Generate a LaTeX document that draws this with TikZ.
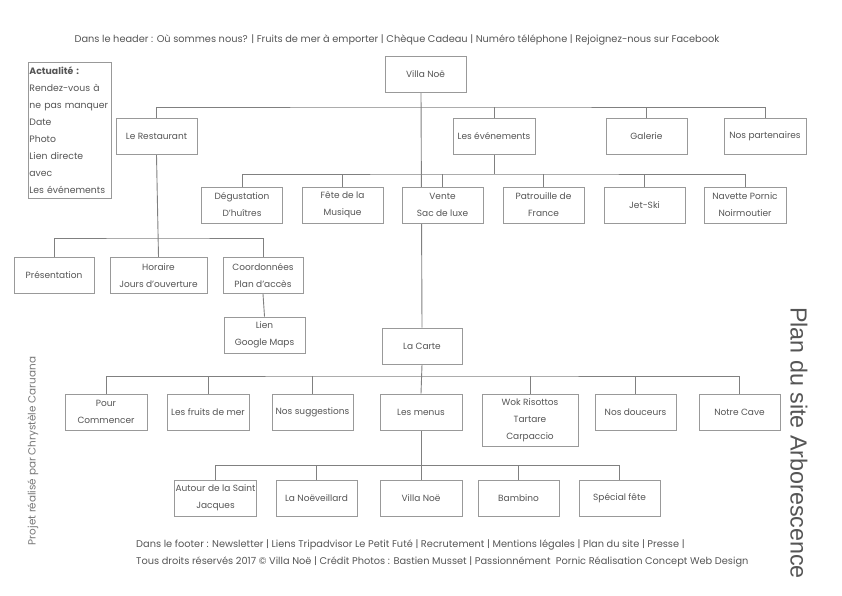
\documentclass[tikz,border=0pt]{standalone}
\usepackage{fontspec}
\setmainfont{Poppins}
\newfontfamily\titlefont{Liberation Sans}
\usetikzlibrary{backgrounds}
\definecolor{txt}{HTML}{555555}
\definecolor{bord}{HTML}{999999}
\definecolor{wirec}{HTML}{808080}
\tikzset{
  box/.style={draw=bord, line width=0.9pt, fill=white, minimum width=81pt, minimum height=36pt,
    inner sep=1pt, align=center, font=\fontsize{9}{17}\selectfont, text=txt},
  wire/.style={draw=wirec, line width=0.9pt},
  plain/.style={text=txt, inner sep=0pt, font=\fontsize{9.8}{17}\selectfont},
}
\begin{document}
\begin{tikzpicture}[x=1pt,y=-1pt]
\useasboundingbox (0,0) rectangle (842,595);
% header / footer
\node[plain] (header) at (397,40) {Dans le header : Où sommes nous? | Fruits de mer à emporter | Chèque Cadeau | Numéro téléphone | Rejoignez-nous sur Facebook};
\node[plain, anchor=west] (foot1) at (136,545) {Dans le footer : Newsletter | Liens Tripadvisor Le Petit Futé | Recrutement | Mentions légales | Plan du site | Presse |};
\node[plain, anchor=west] (foot2) at (136,562) {Tous droits réservés 2017 © Villa Noë | Crédit Photos : Bastien Musset | Passionnément\ \ Pornic Réalisation Concept Web Design};
% side texts
\node[plain, text=txt!80, font=\fontsize{10.4}{11}\selectfont, rotate=90] (author) at (33,451) {Projet réalisé par Chrystèle Caruana};
\node[plain, text=txt, font=\titlefont\fontsize{23.3}{24}\selectfont, rotate=-90] (title) at (799,443) {Plan du site Arborescence};
% actualite
\node[box, font=\fontsize{9.3}{17}\selectfont, minimum width=82pt, minimum height=136pt, text width=81pt, align=left, anchor=north west] (actu) at (28,62)
  {\textbf{Actualité :}\\Rendez-vous à\\ne pas manquer\\Date\\Photo\\Lien directe\\avec\\Les événements};
% level 0
\node[box] (villa) at (425.5,74) {Villa Noë};
% level 1
\node[box] (resto) at (156.5,136.5) {Le Restaurant};
\node[box, minimum width=82pt] (events) at (494,136.5) {Les événements};
\node[box] (galerie) at (646.5,136.5) {Galerie};
\node[box, minimum width=82pt] (parten) at (765,136.5) {Nos partenaires};
% events children
\node[box] (degust) at (242,205) {Dégustation\\D'huîtres};
\node[box] (fete) at (342.5,205) {Fête de la\\Musique};
\node[box] (vente) at (442.5,205) {Vente\\Sac de luxe};
\node[box] (patrouille) at (543.5,205) {Patrouille de\\France};
\node[box] (jetski) at (644.5,205) {Jet-Ski};
\node[box, minimum width=82pt] (navette) at (745,205) {Navette Pornic\\Noirmoutier};
% restaurant children
\node[box, minimum width=80pt] (presentation) at (54,275.5) {Présentation};
\node[box, minimum width=97pt] (horaire) at (158.5,275.5) {Horaire\\Jours d'ouverture};
\node[box, minimum width=80pt] (coord) at (263,275.5) {Coordonnées\\Plan d'accès};
\node[box] (lien) at (264.5,335) {Lien\\Google Maps};
% la carte
\node[box, minimum width=80pt] (carte) at (422,346) {La Carte};
\node[box, minimum width=82pt] (pour) at (106,412) {Pour\\Commencer};
\node[box, minimum width=82pt] (fruits) at (208,412) {Les fruits de mer};
\node[box] (sugg) at (312.5,412) {Nos suggestions};
\node[box, minimum width=82pt] (menus) at (421,412) {Les menus};
\node[box, minimum width=96pt, minimum height=52pt] (wok) at (530,420) {Wok Risottos\\Tartare\\Carpaccio};
\node[box] (douceurs) at (635.5,412) {Nos douceurs};
\node[box] (cave) at (739.5,412) {Notre Cave};
% menus children
\node[box] (autour) at (215.5,498) {Autour de la Saint\\Jacques};
\node[box] (noev) at (316.5,498) {La Noëveillard};
\node[box, minimum width=82pt] (villa2) at (421,498) {Villa Noë};
\node[box] (bambino) at (518.5,498) {Bambino};
\node[box] (special) at (619.5,498) {Spécial fête};
% bus coordinates
\coordinate (b1) at (421,107);
\coordinate (b2) at (495,174);
\coordinate (b3) at (157,238);
\coordinate (b4) at (421,376);
\coordinate (b5) at (421,465);
\begin{pgfonlayer}{background}
\draw[wire] (villa.south -| menus.north) -- (carte.north);
\draw[wire] (resto.north) |- (b1) -| (parten.north);
\draw[wire] (events.north) -- (events.north |- b1);
\draw[wire] (galerie.north) -- (galerie.north |- b1);
\draw[wire] (events.south) -- (events.south |- b2);
\draw[wire] (degust.north) |- (b2) -| (navette.north);
\draw[wire] (fete.north) -- (fete.north |- b2);
\draw[wire] (vente.north) -- (vente.north |- b2);
\draw[wire] (patrouille.north) -- (patrouille.north |- b2);
\draw[wire] (jetski.north) -- (jetski.north |- b2);
\draw[wire] (resto.south) -- (horaire.north);
\draw[wire] (presentation.north) |- (b3) -| (coord.north);
\draw[wire] (coord.south) -- (lien.north);
\draw[wire] (carte.south) -- (menus.north);
\draw[wire] (pour.north) |- (b4) -| (cave.north);
\draw[wire] (fruits.north) -- (fruits.north |- b4);
\draw[wire] (sugg.north) -- (sugg.north |- b4);
\draw[wire] (wok.north) -- (wok.north |- b4);
\draw[wire] (douceurs.north) -- (douceurs.north |- b4);
\draw[wire] (menus.south) -- (villa2.north);
\draw[wire] (autour.north) |- (b5) -| (special.north);
\draw[wire] (noev.north) -- (noev.north |- b5);
\draw[wire] (bambino.north) -- (bambino.north |- b5);
\end{pgfonlayer}
\end{tikzpicture}
\end{document}
